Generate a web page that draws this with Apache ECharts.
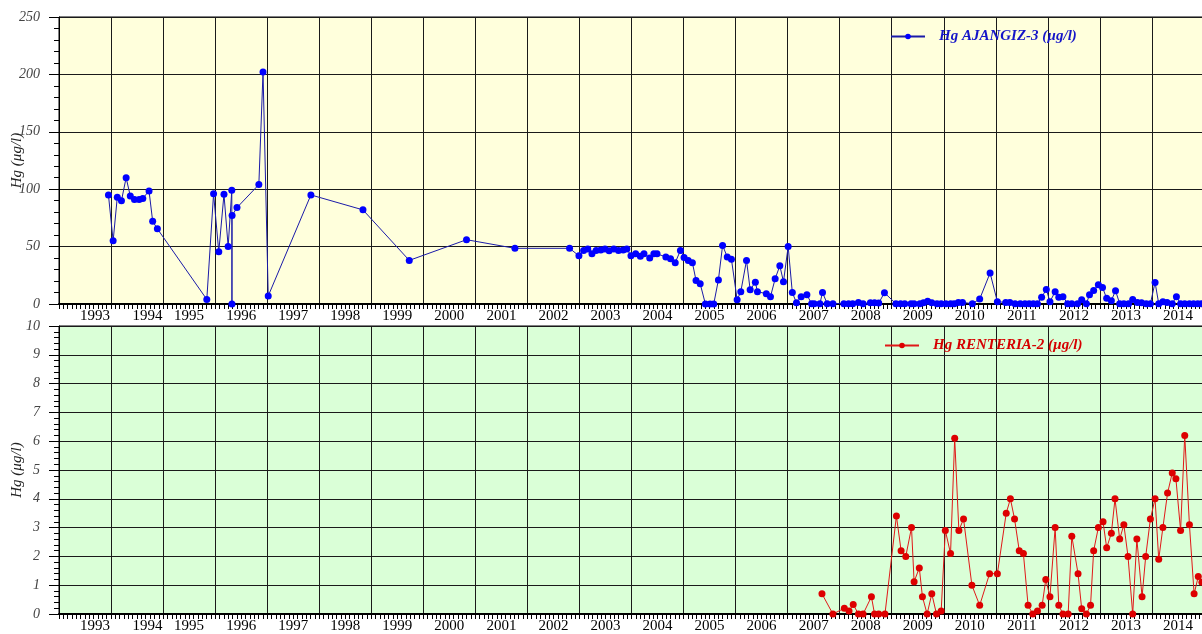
<!DOCTYPE html>
<html>
<head>
<meta charset="utf-8">
<script src="https://cdn.jsdelivr.net/npm/echarts@6/dist/echarts.min.js"></script>
<style>
  html, body { margin: 0; padding: 0; background: #fff; }
  #container { width: 1202px; height: 634px; }
</style>
</head>
<body>
<div id="container"></div>
<script>
// sample dates as decimal years, values in µg/l
var ajangizYears = [
  1993.95, 1994.04, 1994.12, 1994.20, 1994.29, 1994.37, 1994.45, 1994.54, 1994.61, 1994.73,
  1994.80, 1994.89, 1995.84, 1995.97, 1996.07, 1996.17, 1996.25, 1996.32, 1996.323, 1996.326,
  1996.42, 1996.84, 1996.92, 1997.02, 1997.84, 1998.84, 1999.73, 2000.83, 2001.76, 2002.81,
  2002.99, 2003.08, 2003.16, 2003.24, 2003.32, 2003.41, 2003.49, 2003.57, 2003.66, 2003.75,
  2003.84, 2003.91, 2003.99, 2004.08, 2004.17, 2004.24, 2004.35, 2004.43, 2004.49, 2004.66,
  2004.75, 2004.84, 2004.94, 2005.01, 2005.09, 2005.17, 2005.24, 2005.32, 2005.42, 2005.51,
  2005.58, 2005.67, 2005.75, 2005.84, 2005.92, 2006.03, 2006.10, 2006.21, 2006.28, 2006.38,
  2006.42, 2006.59, 2006.67, 2006.76, 2006.85, 2006.92, 2007.01, 2007.09, 2007.17, 2007.26,
  2007.37, 2007.46, 2007.51, 2007.62, 2007.67, 2007.76, 2007.87, 2008.08, 2008.17, 2008.25,
  2008.36, 2008.45, 2008.59, 2008.67, 2008.75, 2008.86, 2009.08, 2009.17, 2009.25, 2009.37,
  2009.43, 2009.54, 2009.61, 2009.69, 2009.77, 2009.87, 2009.95, 2010.04, 2010.13, 2010.20,
  2010.28, 2010.36, 2010.55, 2010.69, 2010.89, 2011.03, 2011.19, 2011.27, 2011.37, 2011.47,
  2011.56, 2011.64, 2011.72, 2011.80, 2011.88, 2011.97, 2012.04, 2012.14, 2012.21, 2012.29,
  2012.38, 2012.46, 2012.57, 2012.65, 2012.74, 2012.80, 2012.88, 2012.97, 2013.05, 2013.13,
  2013.22, 2013.30, 2013.38, 2013.46, 2013.55, 2013.63, 2013.72, 2013.80, 2013.89, 2013.97,
  2014.06, 2014.13, 2014.21, 2014.29, 2014.39, 2014.47, 2014.55, 2014.63, 2014.72, 2014.80,
  2014.88, 2014.95
];
var ajangizValues = [
  95, 55, 93, 90, 110, 94, 91, 91, 92, 98.5,
  72, 65.5, 4, 96, 45.5, 95.5, 50, 99, 0, 77,
  84, 104, 202, 7, 95, 82, 38, 56, 48.5, 48.5,
  42, 46.5, 48, 43.7, 46.5, 47, 48, 46.3, 48, 46.6,
  47, 48, 42, 43.7, 41.7, 43.7, 40, 43.7, 43.7, 41,
  39.4, 36, 46.6, 40.5, 38, 36, 20.5, 17.6, 0, 0,
  0, 21, 51, 41, 39, 3.7, 10.7, 38, 12.4, 19,
  10.7, 9, 6.3, 22, 33.3, 19.4, 50, 10, 1, 6.3,
  8, 0.3, 0.3, 0.3, 10, 0.3, 0.3, 0.3, 0.3, 0.3,
  1.4, 0.3, 1, 1, 0.8, 9.8, 0.3, 0.3, 0.3, 0.3,
  0.3, 0.3, 1, 2.3, 1, 0.3, 0.3, 0.3, 0.3, 0.3,
  1.4, 1.4, 0.3, 4.3, 27, 2, 1.4, 1.4, 0.3, 0.3,
  0.3, 0.3, 0.3, 0.3, 5.8, 12.7, 2, 10.7, 5.8, 6.3,
  0.3, 0.3, 0.3, 3.7, 0.3, 8.1, 11.8, 16.8, 14.4, 4.9,
  2.9, 11.6, 0.3, 0.3, 0.3, 4, 1.4, 1, 0.3, 0.3,
  18.8, 0.3, 2, 1.4, 0.3, 6.3, 0.3, 0.3, 0.3, 0.3,
  0.3, 0.3
];

var renteriaYears = [
  2007.66, 2007.87, 2008.09, 2008.18, 2008.26, 2008.36, 2008.45, 2008.61, 2008.67, 2008.75,
  2008.87, 2009.09, 2009.18, 2009.27, 2009.38, 2009.43, 2009.53, 2009.59, 2009.68, 2009.77,
  2009.86, 2009.95, 2010.03, 2010.13, 2010.21, 2010.29, 2010.38, 2010.54, 2010.69, 2010.88,
  2011.03, 2011.20, 2011.28, 2011.36, 2011.45, 2011.53, 2011.62, 2011.71, 2011.80, 2011.89,
  2011.96, 2012.04, 2012.14, 2012.21, 2012.29, 2012.39, 2012.46, 2012.58, 2012.65, 2012.74,
  2012.82, 2012.88, 2012.97, 2013.06, 2013.13, 2013.22, 2013.29, 2013.38, 2013.46, 2013.54,
  2013.63, 2013.71, 2013.81, 2013.88, 2013.97, 2014.06, 2014.13, 2014.21, 2014.30, 2014.39,
  2014.46, 2014.55, 2014.63, 2014.72, 2014.81, 2014.89, 2014.96
];
var renteriaValues = [
  0.7, 0, 0.2, 0.1, 0.33, 0, 0, 0.6, 0, 0,
  0, 3.4, 2.2, 2.0, 3.0, 1.12, 1.6, 0.6, 0, 0.7,
  0, 0.1, 2.9, 2.1, 6.1, 2.9, 3.3, 1.0, 0.3, 1.4,
  1.4, 3.5, 4.0, 3.3, 2.2, 2.1, 0.3, 0, 0.1, 0.3,
  1.2, 0.6, 3.0, 0.3, 0, 0, 2.7, 1.4, 0.18, 0,
  0.3, 2.2, 3.0, 3.2, 2.3, 2.8, 4.0, 2.6, 3.1, 2.0,
  0, 2.6, 0.6, 2.0, 3.3, 4.0, 1.9, 3.0, 4.2, 4.9,
  4.7, 2.9, 6.2, 3.1, 0.7, 1.3, 1.1
];

var yearLabels = [1993, 1994, 1995, 1996, 1997, 1998, 1999, 2000, 2001, 2002, 2003,
  2004, 2005, 2006, 2007, 2008, 2009, 2010, 2011, 2012, 2013, 2014];

var ajangizName = 'Hg AJANGIZ-3 (µg/l)';
var renteriaName = 'Hg RENTERIA-2 (µg/l)';

var serif = "'Liberation Serif', 'Times New Roman', serif";

function pairs(xs, ys) {
  return xs.map(function (x, i) { return [x, ys[i]]; });
}

// labels sit mid-year, the first two a bit further right as in the original
var labelPos = yearLabels.map(function (y, i) {
  return y + (i === 0 ? 0.69 : i === 1 ? 0.70 : 0.5);
});

function makeX(idx) {
  return {
    type: 'value',
    gridIndex: idx,
    min: 1993,
    max: 2015,
    interval: 1,
    axisLine: { show: true, onZero: false, lineStyle: { color: '#000', width: 2 } },
    axisTick: { show: true, length: 5, lineStyle: { color: '#000' } },
    minorTick: { show: true, splitNumber: 12, length: 5, lineStyle: { color: '#000' } },
    splitLine: { show: true, lineStyle: { color: '#1a1a1a', width: 1 } },
    axisLabel: {
      customValues: labelPos,
      formatter: function (v) { return String(Math.floor(v)); },
      fontFamily: serif,
      fontSize: 15,
      color: '#000',
      margin: 5
    }
  };
}

function makeY(idx, max, interval) {
  return {
    type: 'value',
    gridIndex: idx,
    min: 0,
    max: max,
    interval: interval,
    name: 'Hg (μg/l)',
    nameLocation: 'middle',
    nameGap: 34,
    nameMoveOverlap: false,
    nameTextStyle: { fontFamily: serif, fontStyle: 'italic', fontSize: 15, color: '#222' },
    axisLine: { show: true, lineStyle: { color: '#000', width: 1 } },
    axisTick: { show: true, length: 10, lineStyle: { color: '#000' } },
    minorTick: { show: true, splitNumber: 5, length: 5, lineStyle: { color: '#000' } },
    splitLine: { show: true, lineStyle: { color: '#1a1a1a', width: 1 } },
    axisLabel: {
      fontFamily: serif,
      fontStyle: 'italic',
      fontSize: 14,
      color: '#444',
      margin: 19
    }
  };
}

var myChart = echarts.init(document.getElementById('container'));

var option = {
  animation: false,
  backgroundColor: '#fff',
  grid: [
    { left: 59, right: -2, top: 17, height: 287, outerBoundsMode: 'none', show: true, backgroundColor: '#ffffdc', borderColor: '#000', borderWidth: 1 },
    { left: 59, right: -2, top: 326, height: 288, outerBoundsMode: 'none', show: true, backgroundColor: '#daffd7', borderColor: '#000', borderWidth: 1 }
  ],
  xAxis: [makeX(0), makeX(1)],
  yAxis: [makeY(0, 250, 50), makeY(1, 10, 1)],
  legend: [
    {
      data: [ajangizName],
      left: 890,
      top: 29,
      padding: 0,
      itemWidth: 34,
      itemHeight: 7,
      itemGap: 0,
      textStyle: { fontFamily: serif, fontStyle: 'italic', fontWeight: 'bold', fontSize: 15, color: '#1515c8', padding: [0, 0, 0, 9] }
    },
    {
      data: [renteriaName],
      left: 884,
      top: 338,
      padding: 0,
      itemWidth: 34,
      itemHeight: 7,
      itemGap: 0,
      textStyle: { fontFamily: serif, fontStyle: 'italic', fontWeight: 'bold', fontSize: 15, color: '#d50000', padding: [0, 0, 0, 9] }
    }
  ],
  series: [
    {
      name: ajangizName,
      type: 'line',
      xAxisIndex: 0,
      yAxisIndex: 0,
      data: pairs(ajangizYears, ajangizValues),
      symbol: 'circle',
      symbolSize: 7,
      showAllSymbol: true,
      lineStyle: { color: '#1a1aa8', width: 1 },
      itemStyle: { color: '#0000ff' }
    },
    {
      name: renteriaName,
      type: 'line',
      xAxisIndex: 1,
      yAxisIndex: 1,
      data: pairs(renteriaYears, renteriaValues),
      symbol: 'circle',
      symbolSize: 7,
      showAllSymbol: true,
      lineStyle: { color: '#e01818', width: 1 },
      itemStyle: { color: '#dd0000' }
    }
  ]
};

myChart.setOption(option);
</script>
</body>
</html>
